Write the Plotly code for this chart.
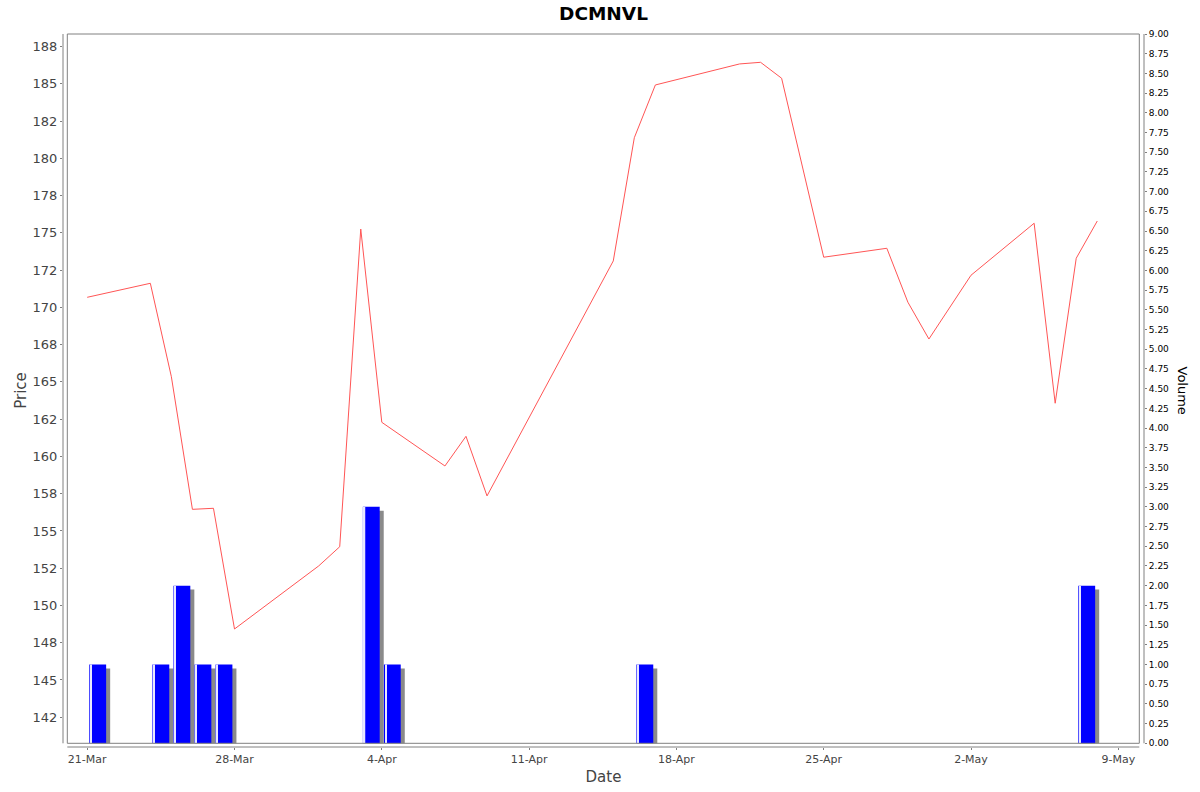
import pandas as pd
import plotly.graph_objects as go

# daily closing price (Sun-Thu trading days)
price_dates = ["2024-03-21", "2024-03-24", "2024-03-25", "2024-03-26", "2024-03-27", "2024-03-28",
               "2024-04-01", "2024-04-02", "2024-04-03", "2024-04-04", "2024-04-07", "2024-04-08",
               "2024-04-09", "2024-04-15", "2024-04-16", "2024-04-17", "2024-04-21", "2024-04-22",
               "2024-04-23", "2024-04-25", "2024-04-28", "2024-04-29", "2024-04-30", "2024-05-02",
               "2024-05-05", "2024-05-06", "2024-05-07", "2024-05-08"]
prices = [170.68, 171.62, 165.35, 156.45, 156.52, 148.42,
          152.65, 153.94, 175.26, 162.29, 159.36, 161.35,
          157.35, 173.12, 181.39, 184.93, 186.34, 186.45,
          185.38, 173.37, 173.97, 170.35, 167.88, 172.16,
          175.65, 163.57, 173.30, 175.80]

# traded volume
volume_dates = ["2024-03-21", "2024-03-24", "2024-03-25", "2024-03-26", "2024-03-27",
                "2024-04-03", "2024-04-04", "2024-04-16", "2024-05-07"]
volumes = [1, 1, 2, 1, 1, 3, 1, 1, 2]

# axis ticks
price_ticks = [142.5, 145, 147.5, 150, 152.5, 155, 157.5, 160, 162.5, 165, 167.5, 170,
               172.5, 175, 177.5, 180, 182.5, 185, 187.5]
price_tick_text = ["142", "145", "148", "150", "152", "155", "158", "160", "162", "165", "168", "170",
                   "172", "175", "178", "180", "182", "185", "188"]
date_ticks = ["2024-03-21", "2024-03-28", "2024-04-04", "2024-04-11", "2024-04-18", "2024-04-25",
              "2024-05-02", "2024-05-09"]
date_tick_text = ["21-Mar", "28-Mar", "4-Apr", "11-Apr", "18-Apr", "25-Apr", "2-May", "9-May"]
volume_ticks = [i * 0.25 for i in range(37)]
volume_tick_text = ["%.2f" % v for v in volume_ticks]

DAY_MS = 86400000
FONT = "DejaVu Sans"
GREY = "#808080"

vdates = pd.to_datetime(volume_dates)

fig = go.Figure()

# bar shadow (offset right/down)
fig.add_trace(go.Bar(x=vdates + pd.Timedelta(hours=12) + pd.Timedelta(hours=4.6),
                     y=[v - 0.05 for v in volumes], width=0.8 * DAY_MS,
                     marker=dict(color="#8a8a8a", line=dict(width=0)),
                     yaxis="y2", showlegend=False, hoverinfo="skip"))
# volume bars
fig.add_trace(go.Bar(x=vdates + pd.Timedelta(hours=12), y=volumes, width=0.8 * DAY_MS,
                     marker=dict(color="#0000ff", line=dict(width=0)),
                     yaxis="y2", showlegend=False, name="Volume"))
# little highlight strip on the left of each bar
fig.add_trace(go.Bar(x=vdates + pd.Timedelta(hours=4.4), y=volumes, width=0.06 * DAY_MS,
                     marker=dict(color="#e8e8ff", line=dict(width=0)),
                     yaxis="y2", showlegend=False, hoverinfo="skip"))

# price line
fig.add_trace(go.Scatter(x=pd.to_datetime(price_dates), y=prices, mode="lines",
                         line=dict(color="#ff5555", width=1), showlegend=False, name="Price"))

fig.update_layout(
    width=1200, height=792,
    margin=dict(l=63, r=56, t=34, b=45, autoexpand=False),
    plot_bgcolor="white", paper_bgcolor="white",
    barmode="overlay",
    font=dict(family=FONT, color="#444444"),
    title=dict(text="<b>DCMNVL</b>", x=0.5, xanchor="center", xref="paper",
               yref="container", y=1 - 14 / 792, yanchor="middle",
               font=dict(family=FONT, size=18.5, color="black")),
    xaxis=dict(type="date", range=["2024-03-19 20:24", "2024-05-10 05:18"],
               tickvals=date_ticks, ticktext=date_tick_text, automargin=False,
               ticks="outside", ticklen=2, tickcolor=GREY,
               showgrid=False, zeroline=False, showline=False,
               tickfont=dict(size=11, color="#444444"),
               title=dict(text="Date", font=dict(size=15, color="#444444"), standoff=6)),
    yaxis=dict(range=[140.5, 188.35], tickvals=price_ticks, ticktext=price_tick_text,
               automargin=False,
               ticks="outside", ticklen=2, tickcolor=GREY,
               showgrid=False, zeroline=False, showline=False,
               tickfont=dict(size=13, color="#444444"),
               title=dict(text="Price", font=dict(size=15, color="#444444"), standoff=2)),
    yaxis2=dict(range=[-0.047, 9], overlaying="y", side="right",
                tickvals=volume_ticks, ticktext=volume_tick_text, automargin=False,
                ticks="outside", ticklen=2, tickcolor=GREY,
                showgrid=False, zeroline=False, showline=False,
                tickfont=dict(size=9, color="black")),
)

# right axis title reads top to bottom
fig.add_annotation(text="Volume", xref="paper", yref="paper", x=1.0, xanchor="center", xshift=38,
                   y=0.5, yanchor="middle", textangle=90, showarrow=False,
                   font=dict(family=FONT, size=13, color="black"))

# plot frame, inset from the axis lines
fx0, fx1, fy0 = 4.3 / 1081, 1076.3 / 1081, 3.7 / 713
fig.add_shape(type="rect", xref="paper", yref="paper", x0=fx0, x1=fx1, y0=fy0, y1=1,
              line=dict(color=GREY, width=1))
# detached axis lines
fig.add_shape(type="line", xref="paper", yref="paper", x0=0, x1=0, y0=fy0, y1=1,
              line=dict(color=GREY, width=1))
fig.add_shape(type="line", xref="paper", yref="paper", x0=1, x1=1, y0=fy0, y1=1,
              line=dict(color=GREY, width=1))
fig.add_shape(type="line", xref="paper", yref="paper", x0=fx0, x1=fx1, y0=0, y1=0,
              line=dict(color=GREY, width=1))

# drop the default 8px page margin so the figure sits at the window's corner
fig.write_html("out.html", config={"displayModeBar": False},
               post_script="document.body.style.margin='0';")
